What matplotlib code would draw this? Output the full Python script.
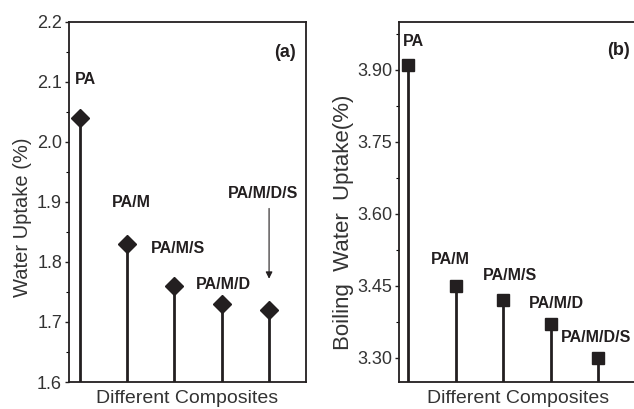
import matplotlib
matplotlib.use("Agg")
import matplotlib.pyplot as plt

plt.rcParams['font.family'] = ['Liberation Sans', 'DejaVu Sans']

composites = ["PA", "PA/M", "PA/M/S", "PA/M/D", "PA/M/D/S"]
positions = [1, 2, 3, 4, 5]
water_uptake = [2.04, 1.83, 1.76, 1.73, 1.72]
boiling_uptake = [3.91, 3.45, 3.42, 3.37, 3.30]

ticks_a = [1.6, 1.7, 1.8, 1.9, 2.0, 2.1, 2.2]
ticks_b = [3.30, 3.45, 3.60, 3.75, 3.90]

ink = "#231f20"

fig = plt.figure(figsize=(6.34, 4.09), dpi=100)
ax_a = fig.add_axes([0.1088, 0.066, 0.3738, 0.881])
ax_b = fig.add_axes([0.6293, 0.066, 0.3754, 0.881])


def style_axis(ax):
    for sp in ax.spines.values():
        sp.set_linewidth(1.3)
        sp.set_color(ink)
    ax.set_xticks([])
    ax.tick_params(axis='y', direction='out', length=3, width=1.0,
                   labelsize=13, pad=2, colors=ink, labelcolor="#333333")
    ax.tick_params(axis='y', which='minor', direction='out', length=2, width=0.8)
    ax.set_xlabel("Different Composites", fontsize=14, color="#333333", labelpad=6)


# (a) water uptake
ax_a.set_xlim(0.77, 5.78)
ax_a.set_ylim(1.6, 2.2)
ax_a.vlines(positions, 1.6, water_uptake, color=ink, linewidth=2.0)
ax_a.plot(positions, water_uptake, linestyle='none', marker='D', markersize=9,
          color=ink, clip_on=False)
ax_a.set_yticks(ticks_a)
ax_a.set_yticklabels([f"{t:.1f}" for t in ticks_a])
ax_a.set_yticks([1.65, 1.75, 1.85, 1.95, 2.05, 2.15], minor=True)
ax_a.set_ylabel("Water Uptake (%)", fontsize=14.5, color="#333333")
ax_a.yaxis.set_label_coords(-0.157, 0.458)
style_axis(ax_a)

lab_a = [(1.11, 2.103, 'center'), (2.08, 1.899, 'center'), (3.08, 1.823, 'center'),
         (4.03, 1.762, 'center'), (4.88, 1.914, 'center')]
for name, (x, y, ha) in zip(composites, lab_a):
    ax_a.text(x, y, name, fontsize=11.5, fontweight='bold', ha=ha, va='center', color=ink)
ax_a.annotate("", xy=(5.0, 1.772), xytext=(5.0, 1.889),
              arrowprops=dict(arrowstyle='-|>', color=ink, lw=0.8,
                              mutation_scale=10, shrinkA=0, shrinkB=0))
ax_a.text(5.34, 2.148, "(a)", fontsize=13, fontweight='bold', ha='center', va='center',
          color=ink)

# (b) boiling water uptake
ax_b.set_xlim(0.81, 5.82)
ax_b.set_ylim(3.25, 4.0)
ax_b.vlines(positions, 3.25, boiling_uptake, color=ink, linewidth=2.0)
ax_b.plot(positions, boiling_uptake, linestyle='none', marker='s', markersize=8,
          color=ink, clip_on=False)
ax_b.set_yticks(ticks_b)
ax_b.set_yticklabels([f"{t:.2f}" for t in ticks_b])
ax_b.set_yticks([3.375, 3.525, 3.675, 3.825, 3.975], minor=True)
ax_b.set_ylabel("Boiling  Water  Uptake(%)", fontsize=16, color="#333333")
ax_b.yaxis.set_label_coords(-0.189, 0.444)
style_axis(ax_b)

lab_b = [(1.11, 3.958, 'center'), (1.89, 3.505, 'center'), (3.14, 3.471, 'center'),
         (4.12, 3.413, 'center'), (4.21, 3.343, 'left')]
for name, (x, y, ha) in zip(composites, lab_b):
    ax_b.text(x, y, name, fontsize=11.5, fontweight='bold', ha=ha, va='center', color=ink)
ax_b.text(5.43, 3.94, "(b)", fontsize=13, fontweight='bold', ha='center', va='center',
          color=ink)

fig.savefig("out.png", dpi=100, facecolor='white')
